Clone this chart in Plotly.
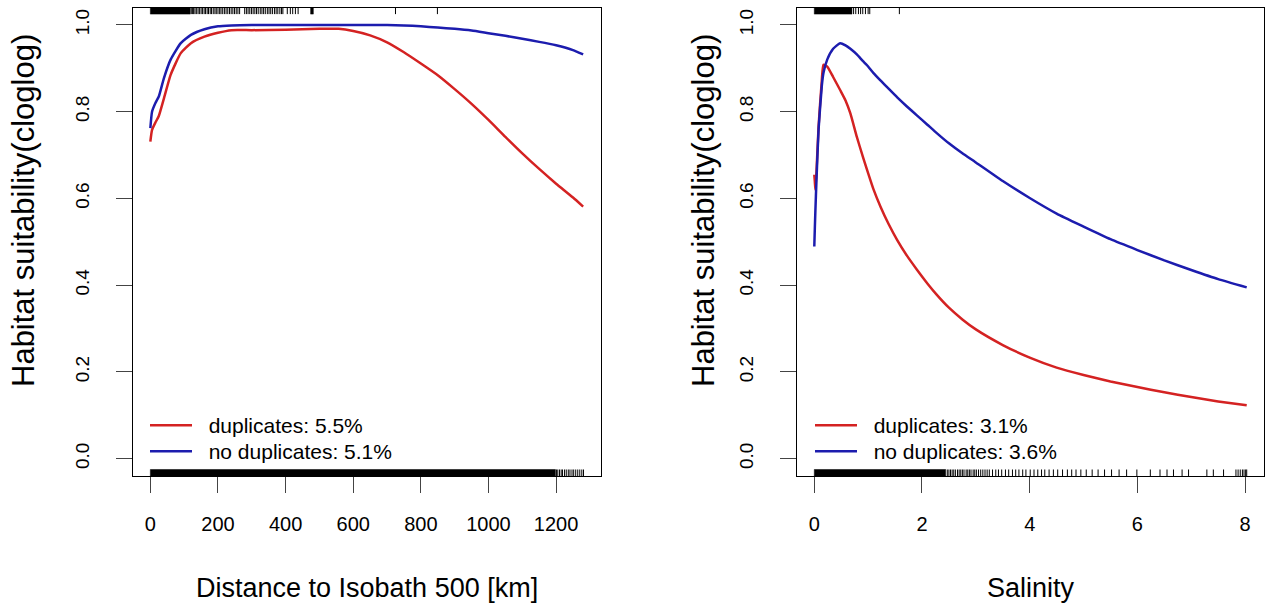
import plotly.graph_objects as go

# ---- Response curve: distance to isobath 500 ----
dist_km = [0, 5, 15, 25, 40, 60, 90, 120, 160, 200, 240, 300, 400, 500, 557,
           600, 650, 700, 750, 800, 850, 900, 950, 1000, 1050, 1100, 1150, 1200, 1250, 1280]
dist_dup = [0.731, 0.758, 0.775, 0.790, 0.830, 0.885, 0.935, 0.958, 0.973, 0.982, 0.988,
            0.988, 0.989, 0.991, 0.991, 0.986, 0.976, 0.960, 0.937, 0.911, 0.884, 0.852,
            0.818, 0.781, 0.742, 0.704, 0.668, 0.634, 0.602, 0.581]
dist_nodup = [0.762, 0.800, 0.820, 0.835, 0.877, 0.920, 0.958, 0.977, 0.990, 0.997, 0.999,
              1.000, 1.000, 1.000, 1.000, 1.000, 1.000, 1.000, 0.999, 0.997, 0.994, 0.991,
              0.987, 0.981, 0.975, 0.968, 0.961, 0.953, 0.942, 0.932]

# ---- Response curve: salinity ----
sal = [0, 0.01, 0.02, 0.04, 0.08, 0.14, 0.17, 0.24, 0.35, 0.48, 0.58, 0.67, 0.79, 0.9,
       0.98, 1.1, 1.23, 1.38, 1.54, 1.72, 1.91, 2.1, 2.28, 2.5, 2.75, 3.0, 3.5, 4.0, 4.5,
       5.0, 5.5, 6.0, 6.5, 7.0, 7.5, 8.03]
sal_dup = [0.655, 0.640, 0.620, 0.660, 0.766, 0.873, 0.908, 0.904, 0.880, 0.850, 0.826,
           0.796, 0.742, 0.697, 0.666, 0.621, 0.581, 0.541, 0.504, 0.468, 0.435, 0.404,
           0.377, 0.348, 0.321, 0.298, 0.262, 0.233, 0.210, 0.193, 0.178, 0.165, 0.153,
           0.142, 0.132, 0.123]
sal_nodup = [0.489, 0.530, 0.570, 0.640, 0.760, 0.860, 0.889, 0.920, 0.945, 0.958, 0.953,
             0.945, 0.932, 0.917, 0.907, 0.889, 0.872, 0.853, 0.833, 0.812, 0.791, 0.770,
             0.750, 0.727, 0.704, 0.683, 0.640, 0.601, 0.565, 0.535, 0.506, 0.481, 0.457,
             0.435, 0.414, 0.395]

# ---- Rug data: presence records (top) and background points (bottom) ----
dist_pres_bands = [(0, 118), (474, 482)]
dist_pres_ticks = [121, 125, 128, 132, 136, 141, 145, 150, 154, 159, 163, 168, 172, 177,
                   181, 186, 191, 195, 200, 205, 209, 214, 219, 224, 229, 234, 239, 244,
                   249, 254, 259, 264, 279, 284, 289, 294, 299, 304, 309, 314, 319, 325,
                   330, 335, 340, 346, 351, 356, 361, 367, 372, 377, 383, 388, 392,
                   405, 414, 421, 429, 437, 725, 849]
dist_bg_bands = [(0, 1198)]
dist_bg_ticks = [1201, 1205, 1210, 1215, 1219, 1225, 1230, 1236, 1241, 1247, 1252, 1258,
                 1264, 1270, 1276, 1281]

sal_pres_bands = [(0, 0.70)]
sal_pres_ticks = [0.73, 0.77, 0.82, 0.86, 0.90, 0.95, 1.00, 1.03, 1.58]
sal_bg_bands = [(0, 2.44)]
sal_bg_ticks = [2.47, 2.50, 2.53, 2.56, 2.59, 2.62, 2.66, 2.69, 2.72, 2.75, 2.78, 2.82,
                2.85, 2.88, 2.91, 2.95, 2.98, 3.01, 3.05, 3.09, 3.13, 3.17, 3.21, 3.25,
                3.31, 3.37, 3.42, 3.48, 3.55, 3.61, 3.68, 3.74, 3.80, 3.87, 3.93, 4.01,
                4.08, 4.15, 4.22, 4.28, 4.36, 4.44, 4.52, 4.61, 4.70, 4.78, 4.86, 4.95,
                5.05, 5.16, 5.27, 5.39, 5.52, 5.66, 5.80, 5.99, 6.24, 6.42, 6.55, 6.67,
                6.83, 6.95, 7.29, 7.41, 7.60, 7.83, 7.87, 7.91, 7.95, 7.98, 8.01, 8.03]

legend_left = ["duplicates: 5.5%", "no duplicates: 5.1%"]
legend_right = ["duplicates: 3.1%", "no duplicates: 3.6%"]
x_titles = ["Distance to Isobath 500 [km]", "Salinity"]
y_title = "Habitat suitability(cloglog)"

RED = "#d42222"
BLUE = "#1c1cae"
FONT = "Liberation Sans, Arial, sans-serif"
Y_RANGE = [-0.04, 1.04]
RUG_LEN = 0.015
GAP = "\u00a0\u00a0"  # space between legend key and label

fig = go.Figure()


def add_rug(xa, ya, bands, ticks, top):
    y0 = Y_RANGE[1] if top else Y_RANGE[0]
    y1 = y0 - RUG_LEN if top else y0 + RUG_LEN
    for a, b in bands:
        fig.add_trace(go.Scatter(x=[a, b, b, a, a], y=[y0, y0, y1, y1, y0], mode="lines",
                                 fill="toself", fillcolor="black", line=dict(color="black", width=0.5),
                                 xaxis=xa, yaxis=ya, showlegend=False, hoverinfo="skip"))
    xs, ys = [], []
    for t in ticks:
        xs += [t, t, None]
        ys += [y0, y1, None]
    fig.add_trace(go.Scatter(x=xs, y=ys, mode="lines", line=dict(color="black", width=1),
                             xaxis=xa, yaxis=ya, showlegend=False, hoverinfo="skip"))


add_rug("x", "y", dist_pres_bands, dist_pres_ticks, True)
add_rug("x", "y", dist_bg_bands, dist_bg_ticks, False)
add_rug("x2", "y2", sal_pres_bands, sal_pres_ticks, True)
add_rug("x2", "y2", sal_bg_bands, sal_bg_ticks, False)

curve_line = dict(width=2.5, shape="spline", smoothing=0.5)
fig.add_trace(go.Scatter(x=dist_km, y=dist_dup, mode="lines", name=GAP + legend_left[0],
                         line=dict(color=RED, **curve_line), xaxis="x", yaxis="y", legend="legend"))
fig.add_trace(go.Scatter(x=dist_km, y=dist_nodup, mode="lines", name=GAP + legend_left[1],
                         line=dict(color=BLUE, **curve_line), xaxis="x", yaxis="y", legend="legend2"))
fig.add_trace(go.Scatter(x=sal, y=sal_dup, mode="lines", name=GAP + legend_right[0],
                         line=dict(color=RED, **curve_line), xaxis="x2", yaxis="y2", legend="legend3"))
fig.add_trace(go.Scatter(x=sal, y=sal_nodup, mode="lines", name=GAP + legend_right[1],
                         line=dict(color=BLUE, **curve_line), xaxis="x2", yaxis="y2", legend="legend4"))

W, H = 1267, 606
y_dom = [(H - 476) / H, (H - 7.6) / H]

axis_common = dict(showline=True, mirror=True, linecolor="black", linewidth=1,
                   ticks="outside", ticklen=16, tickcolor="#444", tickwidth=1,
                   showgrid=False, zeroline=False)
x_tickfont = dict(family=FONT, size=20, color="black")
y_tickfont = dict(family=FONT, size=19, color="black")

legend_common = dict(font=dict(family=FONT, size=21, color="black"), bgcolor="rgba(0,0,0,0)",
                     borderwidth=0, xanchor="left", yanchor="top", itemwidth=42)


def title_ann(text, xp, yp, size, angle=0):
    return dict(text=text, x=xp / W, y=(H - yp) / H, xref="paper", yref="paper",
                xanchor="center", yanchor="middle", showarrow=False, textangle=angle,
                font=dict(family=FONT, size=size, color="black"))


fig.update_layout(
    width=W, height=H,
    margin=dict(l=0, r=0, t=0, b=0),
    paper_bgcolor="white", plot_bgcolor="white",
    xaxis=dict(domain=[133 / W, 600.5 / W], range=[-51.3, 1331.3],
               tickvals=[0, 200, 400, 600, 800, 1000, 1200], ticklabelstandoff=14,
               tickfont=x_tickfont, anchor="y", **axis_common),
    yaxis=dict(domain=y_dom, range=Y_RANGE, tickvals=[0, 0.2, 0.4, 0.6, 0.8, 1.0],
               tickformat=".1f", tickangle=-90, ticklabelstandoff=19, tickfont=y_tickfont,
               anchor="x", **axis_common),
    xaxis2=dict(domain=[797 / W, 1264 / W], range=[-0.321, 8.351],
                tickvals=[0, 2, 4, 6, 8], ticklabelstandoff=14, tickfont=x_tickfont,
                anchor="y2", **axis_common),
    yaxis2=dict(domain=y_dom, range=Y_RANGE, tickvals=[0, 0.2, 0.4, 0.6, 0.8, 1.0],
                tickformat=".1f", tickangle=-90, ticklabelstandoff=19, tickfont=y_tickfont,
                anchor="x2", **axis_common),
    legend=dict(x=145 / W, y=(H - 405) / H, **legend_common),
    legend2=dict(x=145 / W, y=(H - 431) / H, **legend_common),
    legend3=dict(x=810 / W, y=(H - 405) / H, **legend_common),
    legend4=dict(x=810 / W, y=(H - 431) / H, **legend_common),
    annotations=[
        title_ann(x_titles[0], 366.5, 588, 27),
        title_ann(x_titles[1], 1030.5, 588, 27),
        title_ann(y_title, 23, 211, 31, -90),
        title_ann(y_title, 703, 211, 31, -90),
    ],
)

fig.write_html("out.html")
